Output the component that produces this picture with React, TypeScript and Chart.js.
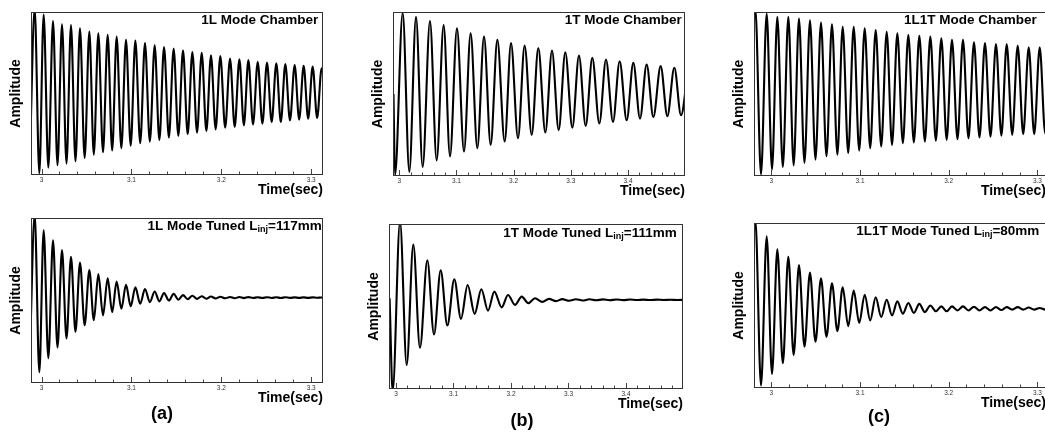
import React, { useEffect, useRef } from "react";
import { Chart, registerables } from "chart.js";

Chart.register(...registerables);

const FONT = "Arial, 'Liberation Sans', Helvetica, sans-serif";

// ---------- data: times (s) of successive extremes and their normalized amplitudes ----------
const aTimes = [
  2.9872,
  2.9924, 2.9976, 3.0024, 3.0076, 3.0128, 3.0178, 3.0228, 3.0278, 3.0328, 3.0378,
  3.0428, 3.048, 3.0532, 3.0582, 3.0632, 3.0684, 3.0736, 3.0786, 3.0836, 3.0888,
  3.094, 3.0992, 3.1044, 3.1098, 3.1151, 3.1205, 3.1259, 3.1311, 3.1363, 3.1417,
  3.147, 3.1522, 3.1574, 3.1626, 3.1678, 3.173, 3.1782, 3.1834, 3.1885, 3.1937,
  3.1989, 3.2043, 3.2097, 3.2149, 3.2201, 3.2251, 3.2301, 3.2353, 3.2405, 3.2457,
  3.2508, 3.256, 3.2612, 3.2662, 3.2712, 3.2764, 3.2816, 3.2866, 3.2916, 3.2966,
  3.3016, 3.3066, 3.3116, 3.3168,
];
const aTopValues = [
  -0.73,
  1.04, -0.98, 0.97, -0.91, 0.89, -0.88, 0.85, -0.86, 0.84, -0.83,
  0.8, -0.79, 0.76, -0.75, 0.74, -0.72, 0.72, -0.7, 0.7, -0.67,
  0.66, -0.64, 0.65, -0.61, 0.62, -0.59, 0.59, -0.57, 0.57, -0.54,
  0.55, -0.52, 0.53, -0.5, 0.51, -0.48, 0.5, -0.46, 0.47, -0.44,
  0.46, -0.42, 0.43, -0.41, 0.42, -0.39, 0.41, -0.38, 0.39, -0.37,
  0.38, -0.35, 0.37, -0.35, 0.36, -0.33, 0.35, -0.32, 0.34, -0.31,
  0.33, -0.3, 0.31, -0.3,
];
const aBottomValues = [
  -0.6,
  1.04, -0.87, 0.85, -0.7, 0.73, -0.57, 0.61, -0.46, 0.53, -0.38,
  0.46, -0.3, 0.37, -0.24, 0.32, -0.18, 0.27, -0.14, 0.23, -0.1,
  0.19, -0.07, 0.16, -0.04, 0.14, -0.02, 0.11, -0.01, 0.09, 0.0,
  0.08, 0.01, 0.065, 0.015, 0.058, 0.02, 0.052, 0.022, 0.048, 0.025,
  0.045, 0.027, 0.043, 0.028, 0.042, 0.029, 0.041, 0.03, 0.04, 0.03,
  0.04, 0.031, 0.039, 0.031, 0.039, 0.032, 0.038, 0.032, 0.038, 0.032,
  0.038, 0.033, 0.037, 0.033,
];

const bTopTimes = [
  2.99,
  2.9927, 3.0061, 3.0177, 3.0294, 3.041, 3.0538, 3.0655, 3.0777, 3.0888, 3.101,
  3.1133, 3.1249, 3.1366, 3.1483, 3.1599, 3.1716, 3.1844, 3.1955, 3.2077, 3.2193,
  3.2316, 3.2432, 3.2555, 3.2671, 3.2788, 3.2904, 3.3027, 3.3143, 3.326, 3.3376,
  3.3499, 3.3615, 3.3738, 3.3854, 3.3977, 3.4093, 3.421, 3.4326, 3.4443, 3.4571,
  3.4688, 3.481, 3.4927, 3.5049,
];
const bTopValues = [
  0.0,
  -0.99, 0.99, -0.95, 0.94, -0.89, 0.89, -0.81, 0.84, -0.76, 0.8,
  -0.7, 0.74, -0.66, 0.7, -0.62, 0.66, -0.58, 0.62, -0.54, 0.59,
  -0.5, 0.56, -0.47, 0.53, -0.44, 0.51, -0.41, 0.47, -0.39, 0.44,
  -0.36, 0.42, -0.34, 0.4, -0.32, 0.38, -0.3, 0.36, -0.28, 0.34,
  -0.27, 0.32, -0.26, 0.3,
];

const bBottomTimes = [
  2.9889,
  2.9942, 3.007, 3.0186, 3.0301, 3.0417, 3.0545, 3.0661, 3.0777, 3.0893, 3.1014,
  3.113, 3.1246, 3.1368, 3.1484, 3.16, 3.171, 3.1838, 3.1948, 3.207, 3.2186,
  3.2301, 3.2417, 3.2545, 3.2661, 3.2783, 3.2893, 3.301, 3.3128, 3.3245, 3.3363,
  3.348, 3.3598, 3.3715, 3.3833, 3.395, 3.4068, 3.4185, 3.4303, 3.442, 3.4538,
  3.4655, 3.4773, 3.489, 3.5008,
];
const bBottomValues = [
  0.1,
  -1.03, 1.03, -0.71, 0.75, -0.5, 0.56, -0.34, 0.44, -0.23, 0.33,
  -0.15, 0.26, -0.09, 0.21, -0.05, 0.18, -0.01, 0.14, 0.02, 0.12,
  0.04, 0.1, 0.056, 0.093, 0.065, 0.089, 0.07, 0.088, 0.073, 0.087,
  0.075, 0.086, 0.076, 0.085, 0.077, 0.084, 0.078, 0.083, 0.078, 0.083,
  0.079, 0.082, 0.079, 0.082,
];

const cTimes = [
  2.9758,
  2.982, 2.9884, 2.9948, 3.0008, 3.0068, 3.013, 3.0192, 3.0252, 3.0312, 3.0374,
  3.0436, 3.0498, 3.056, 3.0622, 3.0684, 3.0745, 3.0805, 3.0867, 3.0929, 3.0991,
  3.1053, 3.1115, 3.1177, 3.1239, 3.1301, 3.1361, 3.1421, 3.1483, 3.1545, 3.1607,
  3.1669, 3.1731, 3.1793, 3.1855, 3.1917, 3.1977, 3.2037, 3.2099, 3.2161, 3.2223,
  3.2285, 3.2347, 3.2409, 3.2471, 3.2533, 3.2594, 3.2654, 3.2716, 3.2778, 3.284,
  3.2902, 3.2964, 3.3026, 3.3088, 3.315,
];
const cTopValues = [
  -0.9,
  1.04, -0.98, 0.98, -0.92, 0.94, -0.89, 0.94, -0.87, 0.92, -0.84,
  0.9, -0.8, 0.87, -0.76, 0.85, -0.74, 0.82, -0.72, 0.82, -0.69,
  0.8, -0.66, 0.78, -0.64, 0.76, -0.62, 0.74, -0.6, 0.72, -0.59,
  0.71, -0.58, 0.7, -0.57, 0.68, -0.56, 0.66, -0.55, 0.66, -0.54,
  0.63, -0.53, 0.62, -0.52, 0.61, -0.51, 0.61, -0.5, 0.59, -0.49,
  0.57, -0.49, 0.57, -0.48, 0.56,
];
const cBottomValues = [
  -0.9,
  1.04, -0.97, 0.84, -0.83, 0.68, -0.7, 0.59, -0.6, 0.49, -0.5,
  0.4, -0.44, 0.33, -0.38, 0.27, -0.31, 0.22, -0.25, 0.18, -0.21,
  0.13, -0.18, 0.1, -0.14, 0.07, -0.12, 0.05, -0.1, 0.03, -0.09,
  0.02, -0.08, 0.0, -0.07, -0.01, -0.07, -0.01, -0.06, -0.01, -0.06,
  -0.015, -0.06, -0.02, -0.06, -0.02, -0.055, -0.02, -0.05, -0.02, -0.05,
  -0.025, -0.05, -0.03, -0.05, -0.03,
];

// x tick labels
const majorTickValues = [3, 3.1, 3.2, 3.3, 3.4];
const majorTickLabels = ["3", "3.1", "3.2", "3.3", "3.4"];

const panelLetters = ["(a)", "(b)", "(c)"];

type Seg = { text: string; sub?: boolean };

const decoPlugin = {
  id: "panelDeco",
  afterDatasetsDraw(chart: any, _args: any, opts: any) {
    const { ctx, chartArea: ca, scales } = chart;
    const xs = scales.x;
    ctx.save();
    // frame
    ctx.strokeStyle = "#333";
    ctx.lineWidth = 1;
    ctx.strokeRect(ca.left + 0.5, ca.top + 0.5, ca.right - ca.left - 1, ca.bottom - ca.top - 1);
    // inner ticks
    ctx.strokeStyle = "#444";
    for (const t of xs.ticks) {
      const v = t.value;
      const k = v / 0.02;
      if (Math.abs(k - Math.round(k)) > 1e-6) continue;
      const major = Math.abs(v * 10 - Math.round(v * 10)) < 1e-6;
      const px = Math.round(xs.getPixelForValue(v)) + 0.5;
      ctx.beginPath();
      ctx.moveTo(px, ca.bottom - 1);
      ctx.lineTo(px, ca.bottom - 1 - (major ? 5 : 2.5));
      ctx.stroke();
    }
    // in-plot title (right aligned, with optional subscript)
    const segs: Seg[] = opts.segments || [];
    const mainFont = `bold 13.5px ${FONT}`;
    const subFont = `bold 9px ${FONT}`;
    let total = 0;
    const widths = segs.map((s) => {
      ctx.font = s.sub ? subFont : mainFont;
      const w = ctx.measureText(s.text).width;
      total += w;
      return w;
    });
    let x = ca.right - opts.inset - total;
    const y = ca.top + opts.dy;
    ctx.fillStyle = "#000";
    ctx.textBaseline = "middle";
    ctx.textAlign = "left";
    segs.forEach((s, i) => {
      ctx.font = s.sub ? subFont : mainFont;
      ctx.fillText(s.text, x, s.sub ? y + 3 : y);
      x += widths[i];
    });
    ctx.restore();
  },
};

type PanelCfg = {
  times: number[];
  values: number[];
  xMin: number;
  xMax: number;
  box: { l: number; t: number; r: number; b: number };
  title: Seg[];
  inset: number;
  dy: number;
};

const panels: PanelCfg[] = [
  { times: aTimes, values: aTopValues, xMin: 2.98832, xMax: 3.31312, box: { l: 31, t: 12, r: 323, b: 175 },
    title: [{ text: "1L Mode Chamber" }], inset: 4.7, dy: 8 },
  { times: bTopTimes, values: bTopValues, xMin: 2.98916, xMax: 3.49965, box: { l: 393, t: 12, r: 685, b: 176 },
    title: [{ text: "1T Mode Chamber" }], inset: 3.3, dy: 8 },
  { times: cTimes, values: cTopValues, xMin: 2.9805, xMax: 3.3097, box: { l: 754, t: 12, r: 1046, b: 176 },
    title: [{ text: "1L1T Mode Chamber" }], inset: 9.3, dy: 8 },
  { times: aTimes, values: aBottomValues, xMin: 2.98832, xMax: 3.31312, box: { l: 31, t: 218, r: 323, b: 383 },
    title: [{ text: "1L Mode Tuned L" }, { text: "inj", sub: true }, { text: "=117mm" }], inset: 1.3, dy: 8.7 },
  { times: bBottomTimes, values: bBottomValues, xMin: 2.98783, xMax: 3.49913, box: { l: 389, t: 224, r: 683, b: 389 },
    title: [{ text: "1T Mode Tuned L" }, { text: "inj", sub: true }, { text: "=111mm" }], inset: 6.3, dy: 9.3 },
  { times: cTimes, values: cBottomValues, xMin: 2.9805, xMax: 3.3097, box: { l: 754, t: 223, r: 1046, b: 388 },
    title: [{ text: "1L1T Mode Tuned L" }, { text: "inj", sub: true }, { text: "=80mm" }], inset: 6.7, dy: 8.3 },
];

const Y_W = 24;
const X_H = 24;
const PAD_T = 2;
const PAD_R = 2;

function Panel({ cfg }: { cfg: PanelCfg }) {
  const ref = useRef<HTMLCanvasElement | null>(null);
  const { box } = cfg;
  const width = box.r - box.l + Y_W + PAD_R;
  const height = box.b - box.t + PAD_T + X_H;

  useEffect(() => {
    if (!ref.current) return;
    const chart = new Chart(ref.current, {
      type: "line",
      data: {
        datasets: [
          {
            data: cfg.times.map((t, i) => ({ x: t, y: cfg.values[i] })),
            borderColor: "#000",
            borderWidth: 2.1,
            pointRadius: 0,
            fill: false,
            cubicInterpolationMode: "monotone",
          },
        ],
      },
      options: {
        animation: false,
        responsive: false,
        devicePixelRatio: 1,
        events: [],
        layout: { padding: { left: 0, top: PAD_T, right: PAD_R, bottom: 0 }, autoPadding: false },
        plugins: {
          legend: { display: false },
          tooltip: { enabled: false },
          panelDeco: { segments: cfg.title, inset: cfg.inset, dy: cfg.dy },
        } as any,
        scales: {
          x: {
            type: "linear",
            min: cfg.xMin,
            max: cfg.xMax,
            afterFit: (s: any) => {
              s.height = X_H;
            },
            grid: { display: false, drawTicks: false },
            border: { display: false },
            ticks: {
              stepSize: 0.02,
              includeBounds: false,
              autoSkip: false,
              maxRotation: 0,
              padding: 1,
              color: "#333",
              font: { family: FONT, size: 6.5 },
              callback: (v: any) => {
                const idx = majorTickValues.findIndex((m) => Math.abs(m - Number(v)) < 1e-6);
                return idx >= 0 ? majorTickLabels[idx] : "";
              },
            },
            title: {
              display: true,
              text: "Time(sec)",
              align: "end",
              color: "#000",
              font: { family: FONT, size: 14, weight: "bold", lineHeight: 1 },
              padding: { top: 0, bottom: 2 },
            },
          },
          y: {
            type: "linear",
            min: -1,
            max: 1,
            afterFit: (s: any) => {
              s.width = Y_W;
            },
            grid: { display: false, drawTicks: false },
            border: { display: false },
            ticks: { display: false },
            title: {
              display: true,
              text: "Amplitude",
              color: "#000",
              font: { family: FONT, size: 14, weight: "bold", lineHeight: 1 },
              padding: { top: 2, bottom: 0 },
            },
          },
        },
      } as any,
      plugins: [decoPlugin],
    });
    return () => chart.destroy();
  }, []);

  return (
    <canvas
      ref={ref}
      width={width}
      height={height}
      style={{
        position: "absolute",
        left: box.l - Y_W,
        top: box.t - PAD_T,
        width,
        height,
      }}
    />
  );
}

const letterPos = [
  { x: 162, y: 413 },
  { x: 522, y: 420 },
  { x: 879, y: 416 },
];

export default function App() {
  return (
    <div
      style={{
        position: "fixed",
        left: 0,
        top: 0,
        width: 1045,
        height: 441,
        overflow: "hidden",
        background: "#fff",
      }}
    >
      {panels.map((p, i) => (
        <Panel key={i} cfg={p} />
      ))}
      {panelLetters.map((t, i) => (
        <span
          key={t}
          style={{
            position: "absolute",
            left: letterPos[i].x,
            top: letterPos[i].y,
            transform: "translate(-50%, -50%)",
            fontFamily: FONT,
            fontWeight: "bold",
            fontSize: 18,
            lineHeight: "18px",
            whiteSpace: "nowrap",
          }}
        >
          {t}
        </span>
      ))}
    </div>
  );
}
